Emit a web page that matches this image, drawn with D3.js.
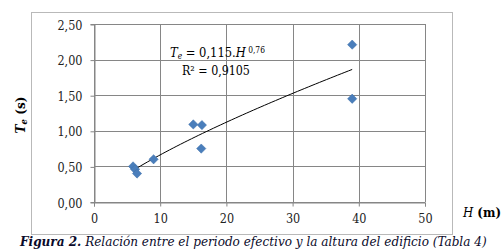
<!DOCTYPE html>
<html>
<head>
<meta charset="utf-8">
<script src="https://cdn.jsdelivr.net/npm/d3@7"></script>
<style>
  body { margin: 0; background: #fff; }
  svg text { font-family: "DejaVu Serif Condensed", "DejaVu Serif", serif; }
</style>
</head>
<body>
<svg id="chart" width="504" height="251"></svg>
<script>
// altura H (m) y periodo efectivo Te (s)
const heightsM = [5.9, 6.2, 6.5, 9.0, 15.0, 16.3, 16.2, 39.0, 39.0];
const periodsS = [0.50, 0.46, 0.40, 0.60, 1.09, 1.08, 0.75, 2.21, 1.45];
const xTicks = [0, 10, 20, 30, 40, 50];
const yTicks = [0, 0.5, 1.0, 1.5, 2.0, 2.5];
// fitted power law shown on the chart: Te = 0,115 H^0,76
const fitCoef = 0.115, fitExp = 0.76;

const serif = "'DejaVu Serif Condensed', 'DejaVu Serif', serif";
const svg = d3.select("#chart").attr("font-family", serif);
const margins = {left: 94, right: 79, top: 24, bottom: 49};
const W = 504, H = 251;

const x = d3.scaleLinear().domain([0, 50]).range([margins.left, W - margins.right]);
const y = d3.scaleLinear().domain([0, 2.5]).range([H - margins.bottom, margins.top]);

// scale a text's font size so it takes the given width
function fitWidth(sel, size, width) {
    sel.attr("font-size", size);
    const w = sel.node().getComputedTextLength();
    sel.attr("font-size", size * width / w);
}

// outer chart frame
svg.append("rect")
    .attr("x", 31.5).attr("y", 12.5)
    .attr("width", 421).attr("height", 222)
    .attr("fill", "none")
    .attr("stroke", "#b9b9b9")
    .attr("stroke-width", 1);

const gridColor = "#868686";

// grid lines
svg.append("g").selectAll("line.hgrid")
    .data(yTicks)
    .join("line")
    .attr("x1", x(0)).attr("x2", x(50))
    .attr("y1", d => Math.round(y(d)) + 0.5).attr("y2", d => Math.round(y(d)) + 0.5)
    .attr("stroke", gridColor);

svg.append("g").selectAll("line.vgrid")
    .data(xTicks)
    .join("line")
    .attr("x1", d => Math.round(x(d)) + 0.5).attr("x2", d => Math.round(x(d)) + 0.5)
    .attr("y1", y(0)).attr("y2", y(2.5))
    .attr("stroke", gridColor);

// axes
const fmtY = d => d3.format(".2f")(d).replace(".", ",");

const yAxis = svg.append("g")
    .attr("transform", `translate(${Math.round(x(0)) + 0.5},0)`)
    .call(d3.axisLeft(y).tickValues(yTicks).tickFormat(fmtY).tickSize(4).tickPadding(8));
const xAxis = svg.append("g")
    .attr("transform", `translate(0,${Math.round(y(0)) + 0.5})`)
    .call(d3.axisBottom(x).tickValues(xTicks).tickFormat(d3.format("d")).tickSize(4).tickPadding(8));

[yAxis, xAxis].forEach(a => {
    a.attr("font-family", serif).attr("font-size", 12.5);
    a.select(".domain").attr("stroke", gridColor).attr("stroke-width", 1);
    a.selectAll(".tick line").attr("stroke", gridColor);
    a.selectAll(".tick text").attr("fill", "#222");
});
yAxis.selectAll(".tick line").attr("transform", "translate(0,0.5)");
yAxis.selectAll(".tick text").attr("dy", "0.4em");

// trend line
const xMin = d3.min(heightsM), xMax = d3.max(heightsM);
const fitPts = d3.range(0, 61).map(i => xMin + (xMax - xMin) * i / 60)
    .map(h => [h, fitCoef * Math.pow(h, fitExp)]);
svg.append("path")
    .datum(fitPts)
    .attr("fill", "none")
    .attr("stroke", "#000")
    .attr("stroke-width", 1)
    .attr("d", d3.line().x(d => x(d[0])).y(d => y(d[1])));

// markers
const diamond = d3.symbol().type(d3.symbolDiamond2).size(55);
svg.append("g").selectAll("path.pt")
    .data(heightsM.map((h, i) => ({h, t: periodsS[i]})))
    .join("path")
    .attr("class", "pt")
    .attr("transform", d => `translate(${x(d.h)},${y(d.t)})`)
    .attr("d", diamond)
    .attr("fill", "#4a7ebb")
    .attr("stroke", "#3d6ea8")
    .attr("stroke-width", 0.5);

// equation
const eq = svg.append("text").attr("x", 170).attr("y", 57).attr("fill", "#000");
eq.append("tspan").attr("font-style", "italic").text("T");
eq.append("tspan").attr("font-style", "italic").attr("font-size", "0.65em").attr("dy", "0.2em").text("e");
eq.append("tspan").attr("dy", "-0.13em").text(" = 0,115.");
eq.append("tspan").attr("font-style", "italic").text("H");
eq.append("tspan").attr("font-size", "0.65em").attr("dy", "-0.5em").text(" 0,76");
fitWidth(eq, 14, 95);

const r2 = svg.append("text").attr("x", 182).attr("y", 75).attr("fill", "#000")
    .text("R² = 0,9105");
fitWidth(r2, 14, 68);

// axis titles
const yt = svg.append("text")
    .attr("transform", "translate(25,115) rotate(-90)")
    .attr("text-anchor", "middle")
    .attr("font-weight", "bold").attr("fill", "#000");
yt.append("tspan").attr("font-style", "italic").text("T");
yt.append("tspan").attr("font-style", "italic").attr("font-size", "0.7em").attr("dy", "0.2em").text("e");
yt.append("tspan").attr("dy", "-0.14em").text(" (s)");
fitWidth(yt, 15, 37);

const xt = svg.append("text").attr("x", 463).attr("y", 217).attr("fill", "#000");
xt.append("tspan").attr("font-style", "italic").text("H");
xt.append("tspan").attr("font-weight", "bold").text(" (m)");
fitWidth(xt, 15, 38);

// caption, stretched to the width it has in the figure
const cap = svg.append("text").attr("x", 20).attr("y", 246)
    .attr("font-style", "italic").attr("fill", "#0a0a2a");
cap.append("tspan").attr("font-weight", "bold").text("Figura 2.");
cap.append("tspan").text(" Relación entre el periodo efectivo y la altura del edificio (Tabla 4)");
fitWidth(cap, 14, 467);
</script>
</body>
</html>
